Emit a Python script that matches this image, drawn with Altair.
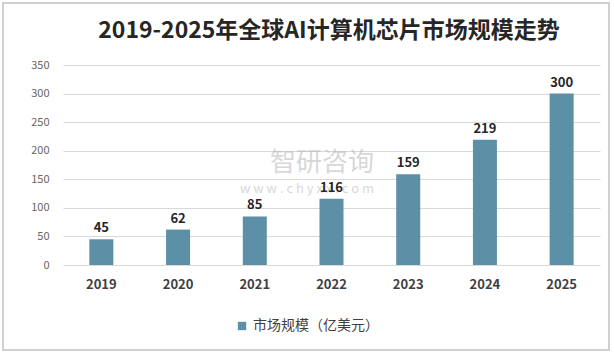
import altair as alt
import pandas as pd

years = ["2019", "2020", "2021", "2022", "2023", "2024", "2025"]
values = [45, 62, 85, 116, 159, 219, 300]
series = "市场规模（亿美元）"
title_text = "2019-2025年全球AI计算机芯片市场规模走势"
y_ticks = [0, 50, 100, 150, 200, 250, 300, 350]

df = pd.DataFrame({"year": years, "value": values, "series": [series] * len(years)})

FONT = "Noto Sans CJK SC"
BAR = "#5B90A6"

base = alt.Chart(df)

x_scale = alt.Scale(paddingInner=0.69, paddingOuter=0.345)
y_scale = alt.Scale(domain=[0, 350], nice=False)

x_enc = alt.X(
    "year:N",
    title=None,
    scale=x_scale,
    axis=alt.Axis(labelAngle=0, labelFontSize=13, labelFontWeight="bold", labelColor="#404040",
                  labelFont=FONT, ticks=False, domain=False, labelPadding=13),
)
y_enc = alt.Y(
    "value:Q",
    title=None,
    scale=y_scale,
    axis=alt.Axis(values=y_ticks, labelFontSize=11, labelColor="#666666", labelFont=FONT,
                  ticks=False, domain=False, gridColor="#D9D9D9", gridWidth=1, labelPadding=14,
                  labelOverlap=False),
)

bars = base.mark_bar(size=24).encode(
    x=x_enc,
    y=y_enc,
    color=alt.Color(
        "series:N",
        scale=alt.Scale(range=[BAR]),
        legend=alt.Legend(title=None, orient="none", legendX=172, legendY=254, symbolType="square",
                          symbolSize=70, labelFontSize=14, labelColor="#404040", labelFont=FONT,
                          symbolStrokeWidth=0),
    ),
)

labels = base.mark_text(dy=-11, fontSize=13, fontWeight="bold", color="#262626", font=FONT).encode(
    x=x_enc,
    y=y_enc,
    text="value:Q",
)

one = alt.Chart(pd.DataFrame({"a": [0]}))
border = one.mark_rect(fill=None, stroke="#D0D0D0", strokeWidth=2).encode(
    x=alt.value(-60), x2=alt.value(546), y=alt.value(-62), y2=alt.value(285)
)
title = one.mark_text(text=title_text, fontSize=23, fontWeight="bold", color="#262626", font=FONT,
                      baseline="middle").encode(
    x=alt.value(266), y=alt.value(-34)
)
wm1 = one.mark_text(text="智研咨询", fontSize=26, color="#B8B8B8", opacity=0.55, font=FONT).encode(
    x=alt.value(259), y=alt.value(98)
)
wm2 = one.mark_text(text="w w w . c h y x x . c o m", fontSize=13, color="#B8B8B8", opacity=0.55, font=FONT).encode(
    x=alt.value(244), y=alt.value(124)
)

chart = alt.layer(border, title, wm1, wm2, bars, labels).properties(
    width=537,
    height=200,
    autosize=alt.AutoSizeParams(type="none"),
    padding={"left": 63, "top": 65, "right": 14, "bottom": 89},
).configure_view(stroke=None)

chart.save("out.html", embed_options={"renderer": "svg", "actions": False})
